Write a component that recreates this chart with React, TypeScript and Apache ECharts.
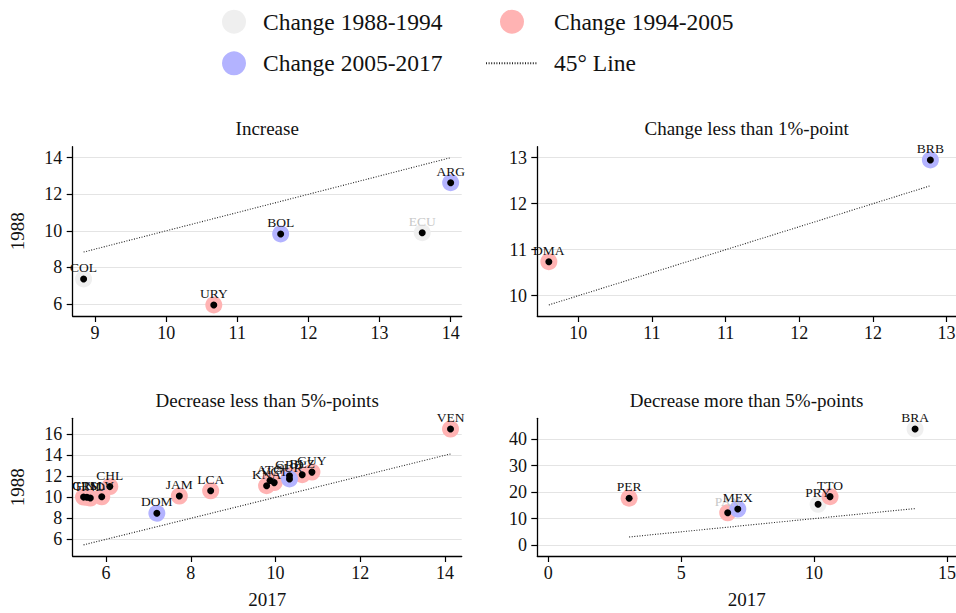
import React, { useEffect, useRef } from 'react';
import * as echarts from 'echarts';

// ---------- data ----------
const PERIODS = ['Change 1988-1994', 'Change 1994-2005', 'Change 2005-2017'];
const LINE_NAME = '45° Line';

// period index: 0 = 1988-1994, 1 = 1994-2005, 2 = 2005-2017
const incCountries = ['COL', 'URY', 'BOL', 'ECU', 'ARG'];
const inc2017 = [8.84, 10.67, 11.61, 13.6, 14.0];
const inc1988 = [7.37, 5.95, 9.83, 9.9, 12.63];
const incPeriod = [0, 1, 2, 0, 2];

const flatCountries = ['DMA', 'BRB'];
const flat2017 = [9.8, 12.39];
const flat1988 = [10.74, 12.95];
const flatPeriod = [1, 2];

const decSmallCountries = ['CRI', 'GTM', 'HND', 'SLV', 'CHL', 'DOM', 'JAM', 'LCA', 'KNA', 'ATG', 'VCT', 'GRD', 'SUR', 'BLZ', 'GUY', 'VEN'];
const decSmall2017 = [5.47, 5.55, 5.63, 5.9, 6.09, 7.2, 7.73, 8.47, 9.79, 9.87, 9.97, 10.33, 10.33, 10.63, 10.86, 14.13];
const decSmall1988 = [10.02, 10.0, 9.93, 10.05, 11.02, 8.48, 10.12, 10.62, 11.1, 11.6, 11.4, 12.05, 11.75, 12.15, 12.4, 16.5];
const decSmallPeriod = [1, 1, 1, 1, 1, 2, 1, 1, 1, 1, 1, 1, 2, 1, 1, 1];

const decLargeCountries = ['PER', 'PAN', 'MEX', 'PRY', 'TTO', 'BRA'];
const decLarge2017 = [3.04, 6.75, 7.13, 10.15, 10.6, 13.8];
const decLarge1988 = [17.7, 12.2, 13.6, 15.4, 18.3, 43.9];
const decLargePeriod = [1, 1, 2, 0, 1, 0];

const grayLabelCountries = ['ECU', 'PAN'];

const panelTitles = [
  'Increase',
  'Change less than 1%-point',
  'Decrease less than 5%-points',
  'Decrease more than 5%-points',
];

const tlXTicks = [9, 10, 11, 12, 13, 14];
const tlYTicks = [6, 8, 10, 12, 14];
const trXTicks = [10, 10.5, 11, 11.5, 12, 12.5];
const trXTickLabels = ['10', '11', '11', '12', '12', '13'];
const trYTicks = [10, 11, 12, 13];
const blXTicks = [6, 8, 10, 12, 14];
const blYTicks = [6, 8, 10, 12, 14, 16];
const brXTicks = [0, 5, 10, 15];
const brYTicks = [0, 10, 20, 30, 40];

// ---------- styling / layout ----------
const PERIOD_COLORS = ['#efefef', '#ffb3b3', '#b3b3ff'];
const FONT = "'Liberation Serif', 'Times New Roman', serif";
const TEXT = '#111';

const panels = [
  {
    countries: incCountries, xs: inc2017, ys: inc1988, periods: incPeriod,
    grid: { left: 72.7, top: 146.7, width: 389, height: 169.3 },
    x: { min: 8.6865, max: 14.155, ticks: tlXTicks, labels: null as string[] | null, name: '' },
    y: { min: 5.344, max: 14.6, ticks: tlYTicks, name: '1988' },
    titleX: 267.2, titleY: 118,
  },
  {
    countries: flatCountries, xs: flat2017, ys: flat1988, periods: flatPeriod,
    grid: { left: 537.3, top: 146.7, width: 418.7, height: 169.3 },
    x: { min: 9.7217, max: 12.564, ticks: trXTicks, labels: trXTickLabels, name: '' },
    y: { min: 9.559, max: 13.239, ticks: trYTicks, name: '' },
    titleX: 746.6, titleY: 118,
  },
  {
    countries: decSmallCountries, xs: decSmall2017, ys: decSmall1988, periods: decSmallPeriod,
    grid: { left: 72.7, top: 418.3, width: 389, height: 137.7 },
    x: { min: 5.214, max: 14.394, ticks: blXTicks, labels: null as string[] | null, name: '2017' },
    y: { min: 4.41, max: 17.524, ticks: blYTicks, name: '1988' },
    titleX: 267.2, titleY: 389.5,
  },
  {
    countries: decLargeCountries, xs: decLarge2017, ys: decLarge1988, periods: decLargePeriod,
    grid: { left: 537.3, top: 418.3, width: 418.7, height: 137.7 },
    x: { min: -0.414, max: 15.34, ticks: brXTicks, labels: null as string[] | null, name: '2017' },
    y: { min: -4.16, max: 47.95, ticks: brYTicks, name: '' },
    titleX: 746.6, titleY: 389.5,
  },
];

function buildOption() {
  const grid: any[] = [];
  const xAxis: any[] = [];
  const yAxis: any[] = [];
  const title: any[] = [];
  const series: any[] = [];

  panels.forEach((p, gi) => {
    grid.push({ ...p.grid, containLabel: false, outerBoundsMode: 'none' });
    title.push({
      text: panelTitles[gi],
      left: p.titleX,
      top: p.titleY,
      textAlign: 'center',
      padding: 0,
      textStyle: { fontFamily: FONT, fontSize: 19, fontWeight: 'normal', color: TEXT, lineHeight: 21 },
    });
    const labels = p.x.labels;
    const ticks = p.x.ticks;
    xAxis.push({
      type: 'value',
      gridIndex: gi,
      min: p.x.min,
      max: p.x.max,
      name: p.x.name,
      nameLocation: 'middle',
      nameGap: 33.5,
      nameTextStyle: { fontFamily: FONT, fontSize: 19, color: TEXT },
      axisLine: { show: true, onZero: false, lineStyle: { color: '#000', width: 1.3 } },
      axisTick: { show: true, length: 6, customValues: ticks, lineStyle: { color: '#000', width: 1.2 } },
      axisLabel: {
        customValues: ticks,
        margin: 8,
        fontFamily: FONT,
        fontSize: 18,
        color: TEXT,
        hideOverlap: false,
        formatter: (v: number) => {
          if (labels) {
            const idx = ticks.findIndex((t) => Math.abs(t - v) < 1e-6);
            return idx >= 0 ? labels[idx] : '';
          }
          return String(v);
        },
      },
      splitLine: { show: false },
    });
    yAxis.push({
      type: 'value',
      gridIndex: gi,
      min: p.y.min,
      max: p.y.max,
      name: p.y.name,
      nameLocation: 'middle',
      nameGap: 46,
      nameTextStyle: { fontFamily: FONT, fontSize: 19, color: TEXT },
      axisLine: { show: true, onZero: false, lineStyle: { color: '#000', width: 1.3 } },
      axisTick: { show: true, length: 6, customValues: p.y.ticks, lineStyle: { color: '#000', width: 1.2 } },
      axisLabel: {
        customValues: p.y.ticks,
        margin: 10.4,
        fontFamily: FONT,
        fontSize: 18,
        color: TEXT,
        hideOverlap: false,
      },
      splitLine: { show: true, lineStyle: { color: '#e4e4e4', width: 1.2 } },
    });

    const n = p.countries.length;
    const minX = Math.min(...p.xs);
    const maxX = Math.max(...p.xs);
    series.push({
      name: LINE_NAME,
      type: 'line',
      xAxisIndex: gi,
      yAxisIndex: gi,
      data: [[minX, minX], [maxX, maxX]],
      symbol: 'none',
      showSymbol: false,
      silent: true,
      z: 1,
      lineStyle: { color: '#222', width: 1.1, type: [1, 1.6] },
      itemStyle: { color: 'rgba(0,0,0,0)', borderWidth: 0 },
    });
    PERIODS.forEach((name, pi) => {
      const data: number[][] = [];
      for (let i = 0; i < n; i++) {
        if (p.periods[i] === pi) data.push([p.xs[i], p.ys[i]]);
      }
      series.push({
        name,
        type: 'scatter',
        xAxisIndex: gi,
        yAxisIndex: gi,
        data,
        symbol: 'circle',
        symbolSize: 17,
        silent: true,
        z: 2,
        itemStyle: { color: PERIOD_COLORS[pi], opacity: 1 },
      });
    });
    const dots: any[] = [];
    for (let i = 0; i < n; i++) {
      const gray = grayLabelCountries.includes(p.countries[i]);
      dots.push({
        name: p.countries[i],
        value: [p.xs[i], p.ys[i]],
        label: gray ? { color: '#c8c8c8' } : undefined,
      });
    }
    series.push({
      name: 'dots',
      type: 'scatter',
      xAxisIndex: gi,
      yAxisIndex: gi,
      data: dots,
      symbol: 'circle',
      symbolSize: 7,
      silent: true,
      z: 3,
      itemStyle: { color: '#000', opacity: 1 },
      label: {
        show: true,
        position: 'top',
        distance: 1,
        formatter: '{b}',
        fontFamily: FONT,
        fontSize: 13.5,
        color: TEXT,
      },
    });
  });

  const legendText = { fontFamily: FONT, fontSize: 23.5, color: TEXT, lineHeight: 24 };
  const legend = [
    {
      data: [PERIODS[0], PERIODS[2]],
      orient: 'vertical',
      left: 222,
      top: 9.7,
      padding: 0,
      itemWidth: 24,
      itemHeight: 24,
      itemGap: 17.6,
      selectedMode: false,
      textStyle: { ...legendText, padding: [0, 0, 0, 12] },
    },
    {
      data: [PERIODS[1], LINE_NAME],
      orient: 'vertical',
      left: 485,
      top: 9.7,
      padding: 0,
      itemWidth: 52,
      itemHeight: 24,
      itemGap: 17.6,
      selectedMode: false,
      textStyle: { ...legendText, padding: [0, 0, 0, 11] },
    },
  ];

  return {
    animation: false,
    backgroundColor: '#fff',
    textStyle: { fontFamily: FONT },
    title,
    legend,
    grid,
    xAxis,
    yAxis,
    series,
  };
}

export default function App() {
  const ref = useRef<HTMLDivElement>(null);
  useEffect(() => {
    if (!ref.current) return;
    const chart = echarts.init(ref.current, undefined, { renderer: 'svg' });
    chart.setOption(buildOption() as any);
    return () => chart.dispose();
  }, []);
  return (
    <div
      ref={ref}
      style={{ position: 'fixed', left: 0, top: 0, width: 956, height: 613, background: '#fff' }}
    />
  );
}
